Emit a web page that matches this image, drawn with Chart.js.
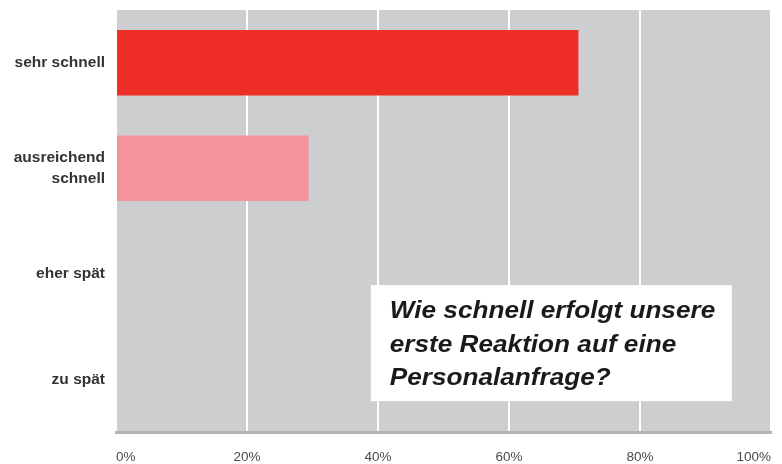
<!DOCTYPE html>
<html>
<head>
<meta charset="utf-8">
<script src="https://cdn.jsdelivr.net/npm/chart.js@4"></script>
<style>
  html, body { margin: 0; padding: 0; background: #fff; }
  #wrap { width: 782px; height: 464px; }
</style>
</head>
<body>
<div id="wrap"><canvas id="c" width="782" height="464"></canvas></div>
<script>
const categories = [['sehr schnell'], ['ausreichend', 'schnell'], ['eher spät'], ['zu spät']];
const shares = [70.6, 29.4, 0, 0];
const barColors = ['#ee2e27', '#f5939a', '#ee2e27', '#ee2e27'];
const xTicks = [0, 20, 40, 60, 80, 100];
const questionLines = ['Wie schnell erfolgt unsere', 'erste Reaktion auf eine', 'Personalanfrage?'];
const FONT = 'Arial, "Liberation Sans", sans-serif';

// grey plot background
const plotBg = {
  id: 'plotBg',
  beforeDraw(chart) {
    const { ctx, chartArea: a } = chart;
    ctx.save();
    ctx.fillStyle = '#cdced0';
    ctx.fillRect(a.left, a.top, a.right - a.left, a.bottom - a.top);
    ctx.restore();
  }
};

// white question box in the lower right (text slightly wide, like the original)
const questionBox = {
  id: 'questionBox',
  afterDraw(chart) {
    const { ctx, chartArea: a } = chart;
    const x = a.left + (a.right - a.left) * 0.389;
    const y = a.top + (a.bottom - a.top) * 0.652;
    const w = 361, h = 116;
    ctx.save();
    ctx.fillStyle = '#ffffff';
    ctx.fillRect(x, y, w, h);
    ctx.fillStyle = '#1a1a1a';
    ctx.font = 'italic bold 24px ' + FONT;
    ctx.textBaseline = 'alphabetic';
    ctx.translate(x + 19, y);
    ctx.scale(1.09, 1);
    questionLines.forEach((t, i) => ctx.fillText(t, 0, 33 + i * 33.5));
    ctx.restore();
  }
};

new Chart(document.getElementById('c'), {
  type: 'bar',
  data: {
    labels: categories,
    datasets: [{
      data: shares,
      backgroundColor: barColors,
      borderWidth: 0,
      categoryPercentage: 0.62,
      barPercentage: 1
    }]
  },
  plugins: [plotBg, questionBox],
  options: {
    indexAxis: 'y',
    responsive: false,
    animation: false,
    layout: { padding: { top: 10, right: 11, left: 0, bottom: 0 } },
    plugins: { legend: { display: false }, tooltip: { enabled: false } },
    scales: {
      x: {
        min: 0,
        max: 100,
        afterBuildTicks: s => { s.ticks = xTicks.map(v => ({ value: v })); },
        afterFit: s => { s.height = 32; s.paddingLeft = 0; s.paddingRight = 0; },
        grid: { color: '#ffffff', lineWidth: 2, drawTicks: false },
        border: { display: true, color: '#b3b4b6', width: 3 },
        ticks: {
          align: 'inner',
          padding: 17,
          color: '#4a4a4a',
          font: { family: FONT, size: 13.5 },
          callback: v => v + '%'
        }
      },
      y: {
        afterFit: s => { s.width = 116; s.paddingTop = 0; s.paddingBottom = 0; },
        grid: { display: false, drawTicks: false },
        border: { display: false },
        ticks: {
          padding: 11,
          color: '#333',
          font: { family: FONT, size: 15.5, weight: 'bold', lineHeight: 1.4 }
        }
      }
    }
  }
});
</script>
</body>
</html>
